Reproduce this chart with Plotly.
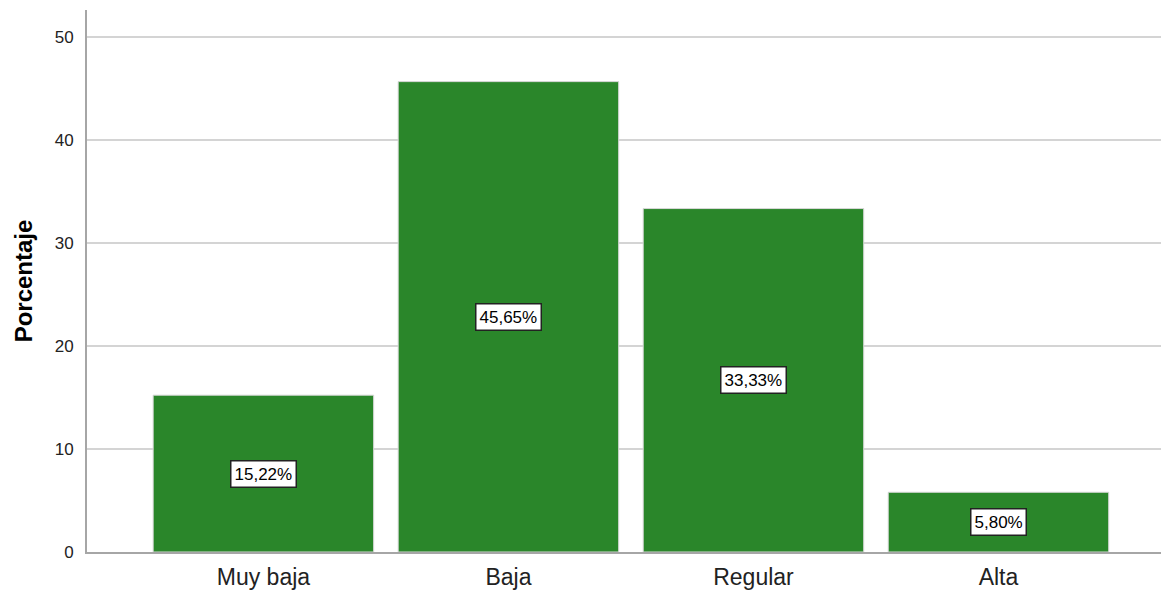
import plotly.graph_objects as go

categories = ["Muy baja", "Baja", "Regular", "Alta"]
values = [15.22, 45.65, 33.33, 5.80]
labels = ["15,22%", "45,65%", "33,33%", "5,80%"]
y_ticks = [0, 10, 20, 30, 40, 50]

fig = go.Figure()
fig.add_trace(go.Bar(
    x=categories, y=values,
    marker=dict(color="#2a862a", line=dict(color="#d9d9d9", width=1)),
    hoverinfo="skip", showlegend=False,
))

for c, v, t in zip(categories, values, labels):
    fig.add_annotation(
        x=c, y=v / 2, text=t, showarrow=False,
        font=dict(family="Arial, Liberation Sans", size=17, color="black"),
        bgcolor="white", bordercolor="#222", borderwidth=1.5, borderpad=3,
    )

fig.update_layout(
    width=1161, height=585,
    margin=dict(l=79, r=0, t=2, b=41),
    plot_bgcolor="white", paper_bgcolor="white",
    bargap=0.1,
    font=dict(family="Arial, Liberation Sans", color="#222"),
)
fig.update_xaxes(
    range=[-0.72, 3.696],
    showline=True, linecolor="#a6a6a6", linewidth=2,
    showgrid=False, ticks="", tickfont=dict(size=23, color="#222"),
    ticklabelstandoff=3,
)
fig.update_yaxes(
    range=[0, 52.6], tickvals=y_ticks,
    showline=True, linecolor="#a6a6a6", linewidth=2,
    showgrid=True, gridcolor="#d4d4d4", gridwidth=1.5,
    zeroline=False, ticks="", tickfont=dict(size=17, color="#222"),
    ticklabelstandoff=8,
    title=dict(text="<b>Porcentaje</b>", font=dict(size=24, color="black"), standoff=15),
)

fig.write_html("out.html")
